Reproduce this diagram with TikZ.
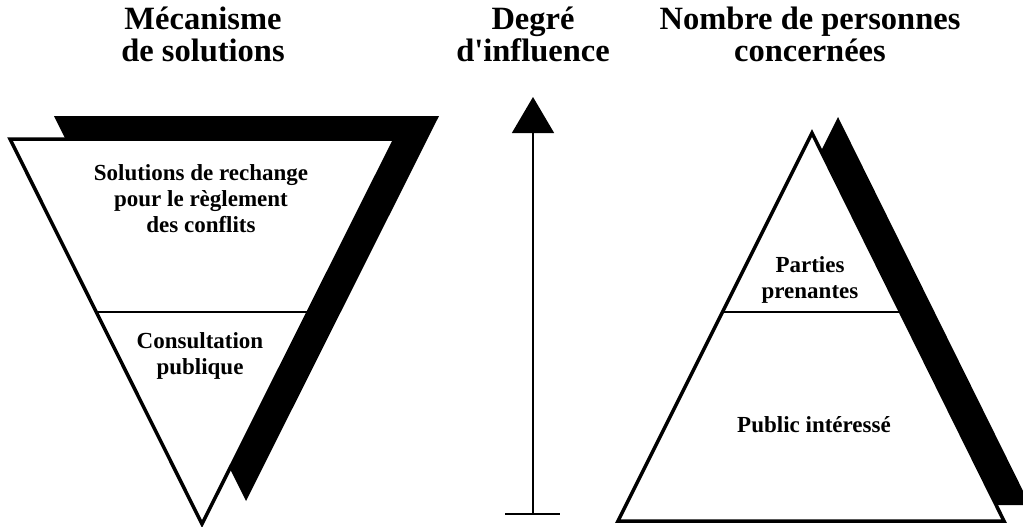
\documentclass[tikz,border=0pt]{standalone}
\usepackage{fontspec}
\setmainfont{Liberation Serif}
\usetikzlibrary{arrows.meta,calc}

\tikzset{
	titre/.style={font=\fontsize{32.5}{32}\selectfont\bfseries, align=center},
	etiquette/.style={font=\fontsize{23}{26}\selectfont\bfseries, align=center},
	ombre/.style={fill=black},
	bloc/.style={draw=black, fill=white, line width=3.5pt, line join=miter},
	separation/.style={line width=1.6pt},
}

\begin{document}
\begin{tikzpicture}[x=1pt,y=-1pt]
			\useasboundingbox (0,0) rectangle (1023,527);

			% titres
			\node[titre] (tmeca) at (203,34) {Mécanisme\\de solutions};
			\node[titre] (tdeg) at (533,34) {Degré\\d\textquotesingle influence};
			\node[titre] (tnomb) at (810,34) {Nombre de personnes\\concernées};

			% triangle renverse
			\coordinate (ga) at (10,139);
			\coordinate (gb) at (395,139);
			\coordinate (gc) at (202,524);
			\fill[ombre] ([shift={(44,-23)}]ga) -- ([shift={(44,-23)}]gb) -- ([shift={(44,-23)}]gc) -- cycle;
			\draw[bloc] (ga) -- (gb) -- (gc) -- cycle;
			\draw[separation] ($(ga)!0.449!(gc)$) -- ($(gb)!0.449!(gc)$);
			\node[etiquette] (solu) at (201,199) {Solutions de rechange\\pour le règlement\\des conflits};
			\node[etiquette] (consu) at (200,356) {Consultation\\publique};

			% fleche
			\coordinate (pied) at (533,514);
			\coordinate (pointe) at (533,97);
			\draw[line width=1.5pt,-{Triangle[width=42pt,length=36pt]}] (pied) -- (pointe);
			\draw[line width=1.2pt] ([xshift=-28pt]pied) -- ([xshift=27pt]pied);

			% pyramide
			\coordinate (da) at (812,133);
			\coordinate (db) at (618,521);
			\coordinate (dc) at (1004,521);
			\fill[ombre] ([shift={(26,-16)}]da) -- ([shift={(26,-16)}]db) -- ([shift={(26,-16)}]dc) -- cycle;
			\draw[bloc] (da) -- (db) -- (dc) -- cycle;
			\draw[separation] ($(da)!0.461!(db)$) -- ($(da)!0.461!(dc)$);
			\node[etiquette] (parti) at (810,280) {Parties\\prenantes};
			\node[etiquette] (publi) at (814,425) {Public intéressé};
\end{tikzpicture}
\end{document}
